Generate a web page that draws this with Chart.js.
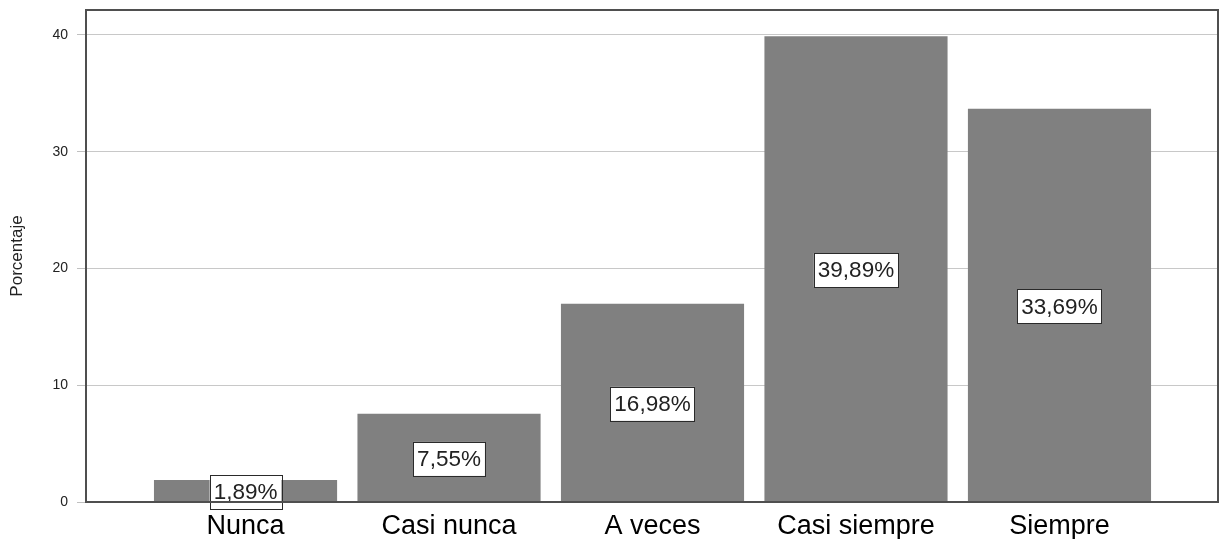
<!DOCTYPE html>
<html>
<head>
<meta charset="utf-8">
<script src="https://cdn.jsdelivr.net/npm/chart.js@4"></script>
<style>
html,body{margin:0;padding:0;background:#fff;}
#wrap{width:1224px;height:539px;position:relative;}
</style>
</head>
<body>
<div id="wrap"><canvas id="c" width="1224" height="539"></canvas></div>
<script>
const categories = ['Nunca', 'Casi nunca', 'A veces', 'Casi siempre', 'Siempre'];
const values = [1.89, 7.55, 16.98, 39.89, 33.69];
const yTicks = [0, 10, 20, 30, 40];
const yTitle = 'Porcentaje';

const FONT = '"Liberation Sans", Arial, sans-serif';

const framePlugin = {
  id: 'frame',
  afterDraw(chart) {
    const {ctx, chartArea: a} = chart;
    ctx.save();
    ctx.strokeStyle = '#4f4f4f';
    ctx.lineWidth = 2;
    ctx.strokeRect(a.left, a.top, a.right - a.left, a.bottom - a.top);
    ctx.restore();
  }
};

const labelPlugin = {
  id: 'barLabels',
  afterDatasetsDraw(chart) {
    const {ctx} = chart;
    const meta = chart.getDatasetMeta(0);
    const yScale = chart.scales.y;
    ctx.save();
    ctx.font = '22.5px ' + FONT;
    ctx.textAlign = 'center';
    ctx.textBaseline = 'middle';
    meta.data.forEach((bar, i) => {
      const v = values[i];
      const txt = v.toFixed(2).replace('.', ',') + '%';
      const cx = bar.x;
      const cy = yScale.getPixelForValue(v / 2) + 1;
      const w = ctx.measureText(txt).width + 8;
      const h = 34;
      ctx.fillStyle = '#ffffff';
      ctx.fillRect(cx - w / 2, cy - h / 2, w, h);
      ctx.strokeStyle = '#2a2a2a';
      ctx.lineWidth = 1;
      ctx.strokeRect(Math.round(cx - w / 2) + 0.5, Math.round(cy - h / 2) + 0.5, Math.round(w), h);
      ctx.fillStyle = '#222222';
      ctx.fillText(txt, cx, cy + 1);
    });
    ctx.restore();
  }
};

new Chart(document.getElementById('c'), {
  type: 'bar',
  data: {
    datasets: [{
      data: values.map((v, i) => ({x: i, y: v})),
      backgroundColor: '#808080',
      borderWidth: 0,
      barPercentage: 0.9,
      categoryPercentage: 1.0
    }]
  },
  options: {
    responsive: false,
    animation: false,
    devicePixelRatio: 1,
    layout: {padding: {top: 10, right: 6, left: 0, bottom: 0}},
    plugins: {legend: {display: false}, tooltip: {enabled: false}},
    scales: {
      x: {
        type: 'linear',
        offset: false,
        min: -0.784,
        max: 4.779,
        afterBuildTicks(scale) { scale.ticks = categories.map((c, i) => ({value: i})); },
        afterFit(scale) { scale.height = 37; scale.paddingLeft = 0; scale.paddingRight = 0; },
        grid: {display: false, drawTicks: false, offset: false},
        border: {display: false},
        ticks: {
          autoSkip: false,
          maxRotation: 0,
          padding: 8,
          color: '#000',
          font: {family: FONT, size: 27},
          callback: (v) => categories[v] ?? ''
        }
      },
      y: {
        min: 0,
        max: 42.14,
        afterBuildTicks(scale) { scale.ticks = yTicks.map(v => ({value: v})); },
        afterFit(scale) { scale.width = 86; scale.paddingTop = 0; scale.paddingBottom = 0; },
        grid: {color: '#c8c8c8', lineWidth: 1, tickLength: 9, tickColor: '#c0c0c0'},
        border: {display: false},
        ticks: {
          padding: 9,
          color: '#222',
          font: {family: FONT, size: 14}
        },
        title: {
          display: true,
          text: yTitle,
          color: '#222',
          font: {family: FONT, size: 17},
          padding: {top: 7, bottom: 0}
        }
      }
    }
  },
  plugins: [framePlugin, labelPlugin]
});
</script>
</body>
</html>
